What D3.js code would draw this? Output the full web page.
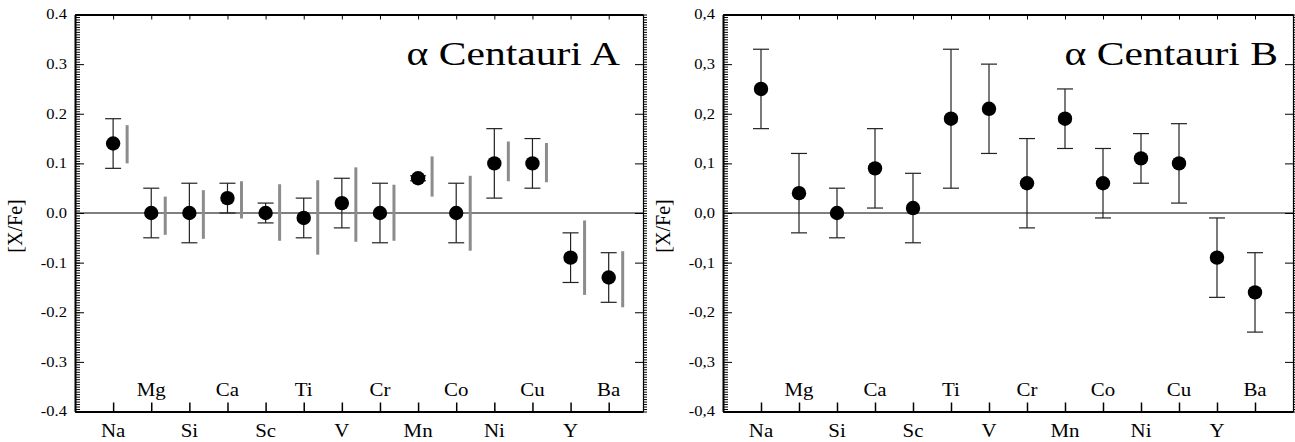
<!DOCTYPE html>
<html>
<head>
<meta charset="utf-8">
<script src="https://cdnjs.cloudflare.com/ajax/libs/d3/7.8.5/d3.min.js"></script>
<style>
  body { margin: 0; background: #fff; }
</style>
</head>
<body>
<script>
// element names along the x axis
var elements = ["Na", "Mg", "Si", "Ca", "Sc", "Ti", "V", "Cr", "Mn", "Co", "Ni", "Cu", "Y", "Ba"];
var yTicks = [-0.4, -0.3, -0.2, -0.1, 0, 0.1, 0.2, 0.3, 0.4];

// alpha Cen A : value, error range, grey comparison bar
var aVal = [0.14, 0.00, 0.00, 0.03, 0.00, -0.01, 0.02, 0.00, 0.07, 0.00, 0.10, 0.10, -0.09, -0.13];
var aLo  = [0.09, -0.05, -0.06, 0.00, -0.02, -0.05, -0.03, -0.06, 0.065, -0.06, 0.03, 0.05, -0.14, -0.18];
var aHi  = [0.19, 0.05, 0.06, 0.06, 0.02, 0.03, 0.07, 0.06, 0.075, 0.06, 0.17, 0.15, -0.04, -0.08];
var aGreyLo = [0.10, -0.044, -0.052, -0.011, -0.056, -0.084, -0.058, -0.056, 0.033, -0.076, 0.064, 0.062, -0.165, -0.19];
var aGreyHi = [0.177, 0.033, 0.046, 0.064, 0.058, 0.066, 0.092, 0.057, 0.114, 0.075, 0.144, 0.141, -0.015, -0.077];

// alpha Cen B
var bVal = [0.25, 0.04, 0.00, 0.09, 0.01, 0.19, 0.21, 0.06, 0.19, 0.06, 0.11, 0.10, -0.09, -0.16];
var bLo  = [0.17, -0.04, -0.05, 0.01, -0.06, 0.05, 0.12, -0.03, 0.13, -0.01, 0.06, 0.02, -0.17, -0.24];
var bHi  = [0.33, 0.12, 0.05, 0.17, 0.08, 0.33, 0.30, 0.15, 0.25, 0.13, 0.16, 0.18, -0.01, -0.08];

var FONT = "Liberation Serif";
var W = 1295, H = 442;
var svg = d3.select("body").append("svg")
  .attr("width", W)
  .attr("height", H);

var panel = function(opt) {
  var x = d3.scaleLinear().domain([0, opt.xMax]).range([opt.left, opt.right]);
  var y = d3.scaleLinear().domain([-0.4, 0.4]).range([411.5, 14.5]);
  var g = svg.append("g");
  var fmt = function(v) {
    var s = v.toFixed(1);
    return opt.comma ? s.replace(".", ",") : s;
  };
  var minor = d3.range(-80, 81).map(function(i) { return i * 0.005; });

  // zero line
  g.append("line")
    .attr("x1", opt.left).attr("x2", opt.right)
    .attr("y1", y(0)).attr("y2", y(0))
    .attr("stroke", "#000").attr("stroke-width", 1);

  // left axis
  g.append("g").attr("transform", "translate(" + opt.left + ",0)")
    .call(d3.axisLeft(y).tickValues(minor).tickSize(-5).tickSizeOuter(0).tickFormat(""))
    .call(function(s) { s.select(".domain").remove(); s.selectAll("line").attr("stroke-width", 1); });
  var la = g.append("g").attr("transform", "translate(" + opt.left + ",0)")
    .call(d3.axisLeft(y).tickValues(yTicks).tickSize(-9).tickSizeOuter(0).tickFormat(fmt));
  la.select(".domain").attr("stroke-width", 2);
  la.attr("font-family", FONT).attr("font-size", 14);
  // the source figure is slightly stretched sideways
  la.selectAll("text").attr("x", 0).attr("transform", "translate(-8,0) scale(1.18,1)");

  // right axis
  g.append("g").attr("transform", "translate(" + opt.right + ",0)")
    .call(d3.axisRight(y).tickValues(minor).tickSize(4).tickSizeOuter(0).tickFormat(""))
    .call(function(s) { s.select(".domain").remove(); });
  g.append("g").attr("transform", "translate(" + opt.right + ",0)")
    .call(d3.axisRight(y).tickValues(yTicks).tickSize(-8).tickSizeOuter(0).tickFormat(""))
    .select(".domain").attr("stroke-width", 1.2);

  // bottom + top axes
  var idx = d3.range(1, 15);
  g.append("g").attr("transform", "translate(0," + y(-0.4) + ")")
    .call(d3.axisBottom(x).tickValues(idx).tickSize(-9).tickSizeOuter(0).tickFormat(""))
    .call(function(s) { s.select(".domain").attr("stroke-width", 2); s.selectAll("line").attr("stroke-width", 1.5); });
  g.append("g").attr("transform", "translate(0," + y(0.4) + ")")
    .call(d3.axisTop(x).tickValues(idx).tickSize(-5).tickSizeOuter(0).tickFormat(""))
    .select(".domain").attr("stroke-width", 2);

  // element labels, alternating below / inside
  g.selectAll(".el").data(elements).enter().append("text")
    .attr("transform", function(d, i) {
      return "translate(" + x(i + 1) + "," + (i % 2 === 0 ? 437 : 396) + ") scale(1.1,1)";
    })
    .attr("text-anchor", "middle")
    .attr("font-family", FONT)
    .attr("font-size", 19)
    .text(function(d) { return d; });

  // y title
  g.append("text")
    .attr("transform", "translate(" + opt.yLabelX + ",226) rotate(-90)")
    .attr("text-anchor", "middle")
    .attr("font-family", FONT)
    .attr("font-size", 20)
    .text("[X/Fe]");

  // panel title
  g.append("text")
    .attr("transform", "translate(" + opt.titleX + ",65) scale(1.26,1)")
    .attr("text-anchor", "end")
    .attr("font-family", FONT)
    .attr("font-size", 33)
    .text(opt.title);

  // grey comparison bars
  if (opt.greyLo) {
    g.selectAll(".grey").data(opt.greyLo).enter().append("line")
      .attr("x1", function(d, i) { return x(i + 1) + 14; })
      .attr("x2", function(d, i) { return x(i + 1) + 14; })
      .attr("y1", function(d) { return y(d); })
      .attr("y2", function(d, i) { return y(opt.greyHi[i]); })
      .attr("stroke", "#8c8c8c").attr("stroke-width", 3);
  }

  // error bars
  var eb = g.selectAll(".err").data(opt.val).enter().append("g");
  eb.append("line")
    .attr("x1", function(d, i) { return x(i + 1); })
    .attr("x2", function(d, i) { return x(i + 1); })
    .attr("y1", function(d, i) { return y(opt.lo[i]); })
    .attr("y2", function(d, i) { return y(opt.hi[i]); })
    .attr("stroke", "#222").attr("stroke-width", 1.2);
  [opt.lo, opt.hi].forEach(function(arr) {
    eb.append("line")
      .attr("x1", function(d, i) { return x(i + 1) - 8; })
      .attr("x2", function(d, i) { return x(i + 1) + 8; })
      .attr("y1", function(d, i) { return y(arr[i]); })
      .attr("y2", function(d, i) { return y(arr[i]); })
      .attr("stroke", "#222").attr("stroke-width", 1.2);
  });

  g.selectAll(".dot").data(opt.val).enter().append("circle")
    .attr("cx", function(d, i) { return x(i + 1); })
    .attr("cy", function(d) { return y(d); })
    .attr("r", 7.2)
    .attr("fill", "#000");
};

panel({left: 75, right: 643, xMax: 14.9, comma: false, yLabelX: 22, titleX: 620,
  title: "\u03b1 Centauri A", val: aVal, lo: aLo, hi: aHi, greyLo: aGreyLo, greyHi: aGreyHi});
panel({left: 723, right: 1293, xMax: 15, comma: true, yLabelX: 670, titleX: 1278,
  title: "\u03b1 Centauri B", val: bVal, lo: bLo, hi: bHi});
</script>
</body>
</html>
